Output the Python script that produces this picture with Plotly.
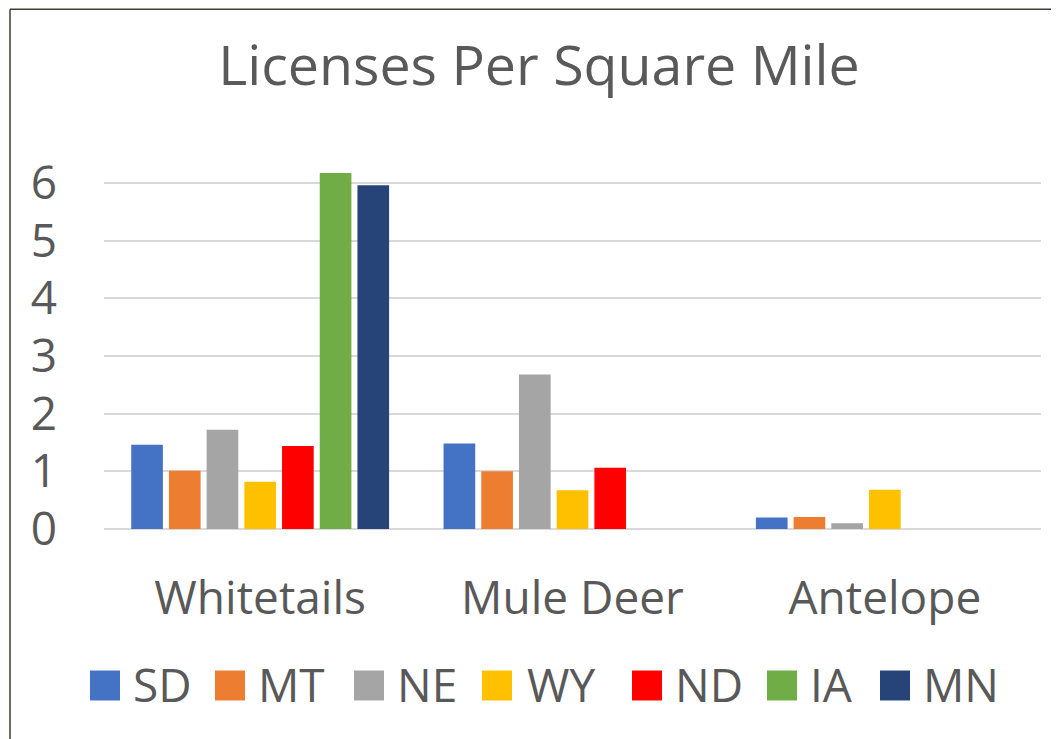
import plotly.graph_objects as go

# ---- data ----
categories = ["Whitetails", "Mule Deer", "Antelope"]
states = ["SD", "MT", "NE", "WY", "ND", "IA", "MN"]
SD = [1.46, 1.48, 0.20]
MT = [1.01, 1.00, 0.21]
NE = [1.72, 2.68, 0.10]
WY = [0.82, 0.67, 0.68]
ND = [1.44, 1.06, None]
IA = [6.17, None, None]
MN = [5.96, None, None]
y_ticks = [0, 1, 2, 3, 4, 5, 6]

series = [SD, MT, NE, WY, ND, IA, MN]
colors = ["#4472C4", "#ED7D31", "#A5A5A5", "#FFC000", "#FF0000", "#70AD47", "#264478"]

SCREEN_W, SCREEN_H = 1059, 739
OFF = 8  # page body margin offset
W, H = SCREEN_W - OFF, SCREEN_H - OFF  # figure fills the rest of the window
# plot area on screen: x 104..1041, y 182.7 (6) .. 529.3 (0)
L = 104 - OFF
R = W - (1041 - OFF)
B = H - (529.3 - OFF)
Y_MAX = 6.5
ph_px = (529.3 - 182.7) / 6 * Y_MAX
T = H - B - ph_px
FONT = "Open Sans"
TXT = "#595959"

fig = go.Figure()
for name, vals, col in zip(states, series, colors):
    fig.add_trace(go.Bar(
        x=categories, y=vals, name=name,
        marker=dict(color=col, line=dict(width=0)),
        showlegend=False,
    ))

pw = W - L - R
ph = H - T - B


def px_x(px):
    # screen pixel -> paper coordinate
    return (px - OFF - L) / pw


def px_y(py):
    return (H - B - (py - OFF)) / ph


shapes = []
annotations = []

# custom legend (large square symbols like the original)
legend_sq_left = [90, 215, 354, 482, 632, 767, 880]
legend_txt_dx = [43, 43, 43, 45, 43, 43, 43]
sq = 30
leg_cy = 686
for name, col, x0, dx in zip(states, colors, legend_sq_left, legend_txt_dx):
    shapes.append(dict(type="rect", xref="paper", yref="paper",
                       x0=px_x(x0), x1=px_x(x0 + sq),
                       y0=px_y(leg_cy + sq / 2), y1=px_y(leg_cy - sq / 2),
                       fillcolor=col, line=dict(width=0), layer="above"))
    annotations.append(dict(text=name, xref="paper", yref="paper",
                            x=px_x(x0 + dx - 2), y=px_y(leg_cy - 1),
                            xanchor="left", yanchor="middle", showarrow=False,
                            font=dict(family=FONT, size=46, color=TXT)))

# outer chart border: only the left and top edges are inside the view
border = dict(color="#403C32", width=1.5)
shapes.append(dict(type="line", xref="paper", yref="paper",
                   x0=px_x(10), x1=px_x(10), y0=px_y(SCREEN_H + 5), y1=px_y(OFF + 1),
                   line=border, layer="above"))
shapes.append(dict(type="line", xref="paper", yref="paper",
                   x0=px_x(10), x1=px_x(SCREEN_W + 5), y0=px_y(OFF + 1), y1=px_y(OFF + 1),
                   line=border, layer="above"))

fig.update_layout(
    width=W, height=H, autosize=False,
    margin=dict(l=L, r=R, t=T, b=B),
    paper_bgcolor="white", plot_bgcolor="white",
    title=dict(text="Licenses Per Square Mile", x=(539 - OFF) / W, xanchor="center",
               xref="container", y=1 - (66 - OFF) / H, yref="container", yanchor="middle",
               font=dict(family=FONT, size=55.5, color=TXT)),
    barmode="group", bargap=0.155, bargroupgap=0.16,
    shapes=shapes, annotations=annotations,
    font=dict(family=FONT, color=TXT),
)
fig.update_yaxes(range=[0, Y_MAX], tickvals=y_ticks, showgrid=True,
                 gridcolor="#D9D9D9", gridwidth=1.5,
                 zeroline=True, zerolinecolor="#D9D9D9", zerolinewidth=1.5,
                 showline=False, ticks="", ticklabelstandoff=46,
                 tickfont=dict(family=FONT, size=46, color=TXT))
fig.update_xaxes(showgrid=False, showline=False, ticks="", ticklabelstandoff=38,
                 tickfont=dict(family=FONT, size=46, color=TXT))

fig.write_html("out.html")
